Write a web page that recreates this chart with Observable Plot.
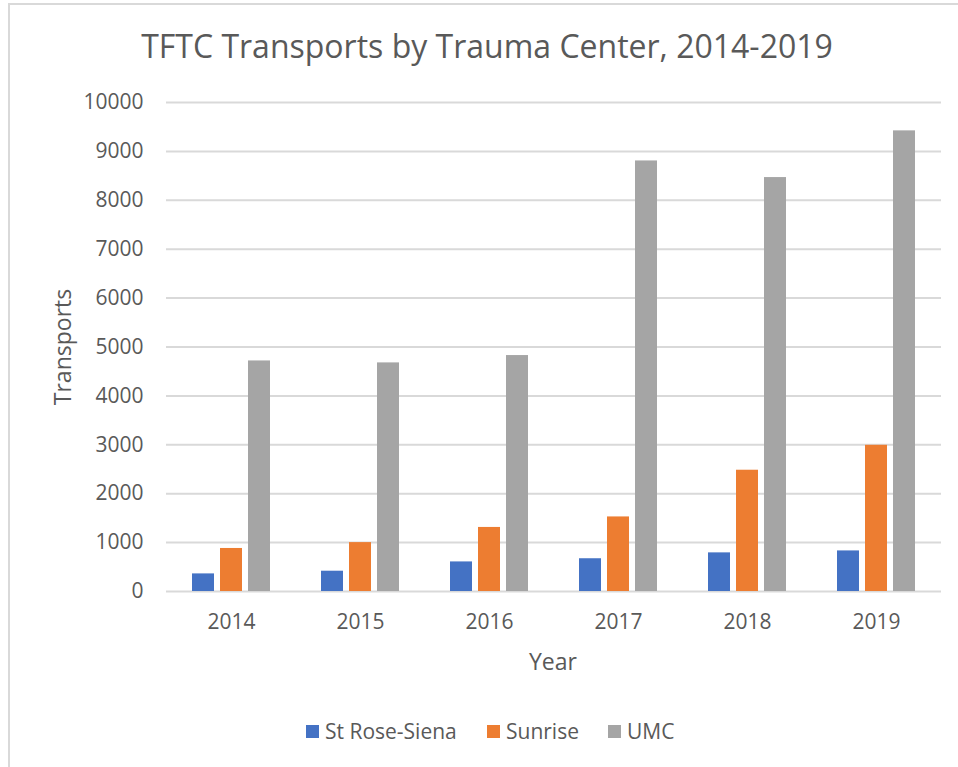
<!DOCTYPE html>
<html>
<head>
<meta charset="utf-8">
<script src="https://cdn.jsdelivr.net/npm/d3@7"></script>
<script src="https://cdn.jsdelivr.net/npm/@observablehq/plot@0.6"></script>
<style>
  html, body { margin: 0; padding: 0; background: #fff; }
  #wrap { position: relative; width: 958px; height: 767px; overflow: hidden; font-family: "Open Sans", sans-serif; color: #595959; }
  #border { position: absolute; left: 8px; top: 3px; width: 1000px; height: 900px; border-left: 2px solid #d9d9d9; border-top: 2px solid #d9d9d9; }
  #title { position: absolute; left: 0; width: 974px; top: 24px; text-align: center; font-size: 32px; white-space: nowrap; }
  #grid, #chart { position: absolute; left: 0; top: 80px; }
  #xlabel { position: absolute; left: 453px; width: 200px; top: 645px; text-align: center; font-size: 23px; }
  #ylabel { position: absolute; left: 62px; top: 347px; transform: translate(-50%, -50%) rotate(-90deg); font-size: 23px; white-space: nowrap; }
  #legend { position: absolute; top: 717px; left: 0; width: 958px; font-size: 21px; }
  .item { position: absolute; top: 0; white-space: nowrap; }
  .sw { display: inline-block; width: 13px; height: 13px; margin-right: 6px; vertical-align: 1px; }
</style>
</head>
<body>
<div id="wrap">
  <div id="border"></div>
  <div id="title">TFTC Transports by Trauma Center, 2014-2019</div>
  <div id="grid"></div>
  <div id="chart"></div>
  <div id="xlabel">Year</div>
  <div id="ylabel">Transports</div>
  <div id="legend"></div>
</div>
<script>
const years = ["2014", "2015", "2016", "2017", "2018", "2019"];
const centers = ["St Rose-Siena", "Sunrise", "UMC"];
const stRoseSiena = [360, 415, 605, 670, 790, 830];
const sunrise = [880, 1000, 1310, 1525, 2480, 2990];
const umc = [4715, 4675, 4825, 8805, 8465, 9420];
const yTicks = [0, 1000, 2000, 3000, 4000, 5000, 6000, 7000, 8000, 9000, 10000];
const colors = ["#4472C4", "#ED7D31", "#A5A5A5"];

const series = [stRoseSiena, sunrise, umc];
const data = years.flatMap((yr, i) => centers.map((c, j) => ({year: yr, center: c, value: series[j][i]})));

const dims = {width: 958, height: 620, marginTop: 22, marginBottom: 109, marginLeft: 166, marginRight: 17};
const style = {fontFamily: "'Open Sans', sans-serif", fontSize: "21px", color: "#595959", background: "transparent", overflow: "visible"};
const yScale = {domain: [0, 10000], ticks: yTicks, tickSize: 0, tickPadding: 23, label: null, tickFormat: d => String(d)};

// Background: full-width gridlines and y axis
const grid = Plot.plot({
  ...dims, style,
  x: {domain: [0, 1], axis: null},
  y: yScale,
  marks: [
    Plot.ruleY(yTicks, {stroke: "#d9d9d9", strokeWidth: 2})
  ]
});
document.getElementById("grid").appendChild(grid);

// Foreground: grouped bars faceted by year
const chart = Plot.plot({
  ...dims, style,
  fx: {domain: years, paddingInner: 0.38, paddingOuter: 0.19, label: null, tickSize: 0, tickPadding: 23, axis: "bottom"},
  x: {domain: centers, paddingInner: 0.2, paddingOuter: 0, axis: null},
  y: {...yScale, axis: null},
  color: {domain: centers, range: colors},
  marks: [
    Plot.barY(data, {fx: "year", x: "center", y: "value", fill: "center"})
  ]
});
document.getElementById("chart").appendChild(chart);

const legend = document.getElementById("legend");
const legendX = [306, 487, 608];
centers.forEach((c, i) => {
  const it = document.createElement("div");
  it.className = "item";
  it.style.left = legendX[i] + "px";
  it.innerHTML = `<span class="sw" style="background:${colors[i]}"></span>${c}`;
  legend.appendChild(it);
});
</script>
</body>
</html>
